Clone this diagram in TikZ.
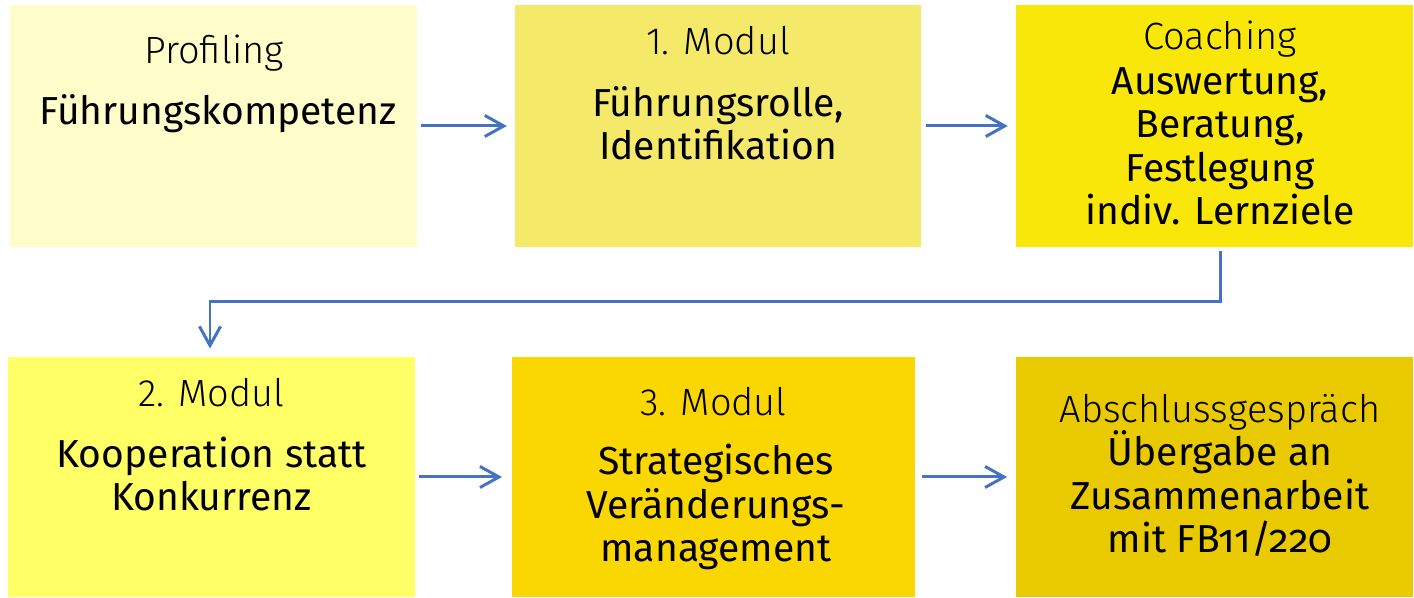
\documentclass[tikz,border=0pt]{standalone}
\usepackage{fontspec}
\setmainfont[Numbers=OldStyle]{Fira Sans}
\newfontfamily\titlefont{Fira Sans Light}
\usetikzlibrary{arrows.meta}
\definecolor{pale}{RGB}{255,253,201}
\definecolor{straw}{RGB}{245,233,106}
\definecolor{lemon}{RGB}{249,231,10}
\definecolor{canary}{RGB}{255,255,102}
\definecolor{gold}{RGB}{250,215,0}
\definecolor{mustard}{RGB}{233,201,0}
\definecolor{flowblue}{RGB}{68,114,196}

\begin{document}
\begin{tikzpicture}[x=0.01cm,y=-0.01cm,
	>={Straight Barb[length=5.4pt,width=6pt]},
	box/.style={inner sep=0pt,outer sep=0pt,minimum height=2.42cm},
	title/.style={anchor=base,font=\titlefont\fontsize{10.8}{12.5}\selectfont},
	body/.style={anchor=base,align=center,font=\fontsize{11.1}{12.4}\selectfont},
	flow/.style={->,draw=flowblue,line width=0.85pt}]
\useasboundingbox (0,0) rectangle (1414,598);

\node[box,fill=pale,minimum width=4.07cm] (b1) at (213.5,126) {};
\node[box,fill=straw,minimum width=4.06cm] (b2) at (718,126) {};
\node[box,fill=lemon,minimum width=3.97cm] (b3) at (1214.5,126) {};
\node[box,fill=canary,minimum width=4.07cm,minimum height=2.40cm] (b4) at (211.5,477) {};
\node[box,fill=gold,minimum width=4.03cm,minimum height=2.40cm] (b5) at (713.5,477) {};
\node[box,fill=mustard,minimum width=3.97cm,minimum height=2.40cm] (b6) at (1214.5,477) {};

% base anchor = baseline of the last line
\node[title] (t1) at (214,64) {Profiling};
\node[body] (m1) at (218,125) {Führungskompetenz};
\node[title] (t2) at (718,55) {1. Modul};
\node[body] (m2) at (718,160) {Führungsrolle,\\Identifikation};
\node[title] (t3) at (1220,50) {Coaching};
\node[body] (m3) at (1220,225) {Auswertung,\\Beratung,\\Festlegung\\indiv. Lernziele};
\node[title] (t4) at (211.5,407) {2. Modul};
\node[body] (m4) at (211.5,511) {Kooperation statt\\Konkurrenz};
\node[title] (t5) at (713.5,416) {3. Modul};
\node[body] (m5) at (716,562) {Strategisches\\Veränderungs-\\management};
\node[title] (t6) at (1220,423) {Abschlussgespräch};
\node[body] (m6) at (1220,553) {Übergabe an\\Zusammenarbeit\\mit FB11/220};

\draw[flow,shorten <=1.1pt,shorten >=2.3pt] (b1) -- (b2);
\draw[flow,shorten <=1.4pt,shorten >=2.3pt] (b2) -- (b3);
\draw[flow,shorten <=1.2pt,shorten >=2.4pt] ([xshift=0.055cm]b3.south) -- ++(0,54) -| ([xshift=-0.015cm]b4.north);
\draw[flow,shorten <=1pt,shorten >=2.8pt] (b4) -- (b5);
\draw[flow,shorten <=2pt,shorten >=2.5pt] (b5) -- (b6);
\end{tikzpicture}
\end{document}
